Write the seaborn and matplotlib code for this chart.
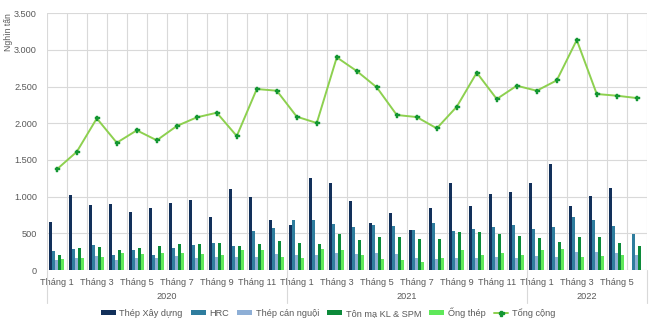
import numpy as np
import pandas as pd
import matplotlib
matplotlib.use("Agg")
import matplotlib.pyplot as plt
import seaborn as sns
from matplotlib.ticker import FuncFormatter, MultipleLocator, FixedLocator
from matplotlib.patches import Patch
from matplotlib.lines import Line2D

# ---- data (nghìn tấn) ----
years = [2020] * 12 + [2021] * 12 + [2022] * 6
months = list(range(1, 13)) * 2 + list(range(1, 7))

thep_xay_dung = [654, 1018, 886, 900, 795, 841, 918, 950, 718, 1104, 1000, 677,
                 614, 1250, 1182, 945, 645, 782, 550, 841, 1186, 877, 1041, 1064,
                 1186, 1450, 873, 1009, 1123, np.nan]
hrc = [264, 286, 341, 205, 273, 209, 295, 341, 368, 323, 527, 577,
       677, 677, 632, 591, 614, 595, 550, 636, 532, 559, 591, 614,
       564, 591, 718, 682, 600, 491]
thep_can_nguoi = [141, 168, 191, 141, 164, 164, 186, 168, 177, 177, 182, 218,
                  209, 205, 236, 218, 227, 218, 168, 155, 164, 168, 177, 168,
                  191, 182, 250, 250, 232, 205]
ton_ma = [205, 305, 309, 273, 300, 323, 350, 350, 364, 323, 359, 391,
          373, 350, 495, 409, 445, 450, 423, 423, 518, 518, 491, 468,
          441, 377, 450, 450, 373, 332]
ong_thep = [155, 164, 173, 232, 223, 227, 236, 218, 209, 268, 273, 177,
            168, 282, 273, 205, 145, 136, 109, 164, 268, 205, 232, 205,
            268, 286, 182, 186, 205, np.nan]
tong_cong = [1372, 1612, 2067, 1735, 1904, 1768, 1963, 2081, 2144, 1826, 2467, 2444,
             2090, 2004, 2899, 2712, 2490, 2113, 2085, 1931, 2226, 2690, 2331, 2512,
             2444, 2585, 3135, 2399, 2376, 2344]

series_names = ["Thép Xây dựng", "HRC", "Thép cán nguội", "Tôn mạ KL & SPM", "Ống thép"]
series_colors = ["#12305a", "#2f7d9e", "#8eafd6", "#0c8a3a", "#5fe85a"]
line_name = "Tổng cộng"
line_color = "#8dd04f"
marker_color = "#139632"

keys = [f"{y}-{m:02d}" for y, m in zip(years, months)]
wide = pd.DataFrame({"key": keys,
                     series_names[0]: thep_xay_dung,
                     series_names[1]: hrc,
                     series_names[2]: thep_can_nguoi,
                     series_names[3]: ton_ma,
                     series_names[4]: ong_thep})
long = wide.melt(id_vars="key", var_name="series", value_name="value").dropna()

# ---- figure ----
sns.set_theme(style="white")
plt.rcParams["font.family"] = ["Liberation Sans", "DejaVu Sans"]
text_color = "#595959"
grid_color = "#d9d9d9"
fs = 6.6

fig = plt.figure(figsize=(6.5, 3.23), dpi=100)
ax = fig.add_axes([0.072, 0.164, 0.923, 0.795])

sns.barplot(data=long, x="key", y="value", hue="series", order=keys,
            hue_order=series_names, palette=dict(zip(series_names, series_colors)),
            width=0.74, gap=0.04, saturation=1, errorbar=None, legend=False,
            linewidth=0, edgecolor="none", ax=ax)

xpos = np.arange(len(keys))
sns.lineplot(x=xpos, y=tong_cong, ax=ax, color=line_color, lw=1.4,
             marker="P", markersize=3.6, markerfacecolor=marker_color,
             markeredgecolor=marker_color, markeredgewidth=0.3, zorder=5)

# axes, ticks, grid
ax.set_xlim(-0.5, len(keys) - 0.5)
ax.set_ylim(0, 3500)
ax.yaxis.set_major_locator(MultipleLocator(500))
ax.yaxis.set_major_formatter(FuncFormatter(lambda v, p: f"{v:,.0f}".replace(",", ".")))
ax.xaxis.set_major_locator(FixedLocator(xpos[::2]))
ax.set_xticklabels([f"Tháng {m}" for m in months[::2]])
ax.xaxis.set_minor_locator(FixedLocator(np.arange(-0.5, len(keys), 1.0)))
ax.tick_params(axis="both", which="both", length=0, labelsize=fs, colors=text_color)
ax.tick_params(axis="x", pad=6)
ax.tick_params(axis="y", pad=7)
ax.grid(False)
ax.grid(axis="y", which="major", color=grid_color, lw=0.8)
ax.grid(axis="x", which="minor", color=grid_color, lw=0.8)
ax.set_axisbelow(True)
for s in ax.spines.values():
    s.set_visible(False)

ax.set_xlabel("")
ax.set_ylabel("Nghìn tấn", fontsize=6.2, color=text_color, loc="top")
ax.yaxis.set_label_coords(-0.056, 1.0)

# year level of the category axis
trans = ax.get_xaxis_transform()
bounds = [-0.5, 11.5, 23.5, len(keys) - 0.5]
for b in bounds:
    ax.plot([b, b], [0, -0.13], transform=trans, color=grid_color, lw=0.8, clip_on=False)
for (a, b), yr in zip(zip(bounds[:-1], bounds[1:]), ["2020", "2021", "2022"]):
    ax.text((a + b) / 2, -0.103, yr, transform=trans, ha="center", va="center",
            fontsize=fs, color=text_color)

# legend
handles = [Patch(facecolor=c, edgecolor="none") for c in series_colors]
handles.append(Line2D([0], [0], color=line_color, lw=1.4, marker="P", markersize=3.6,
                      markerfacecolor=marker_color, markeredgecolor=marker_color))
fig.legend(handles, series_names + [line_name], loc="center", bbox_to_anchor=(0.505, 0.032),
           ncol=6, frameon=False, fontsize=fs, handlelength=1.6, handleheight=0.5,
           handletextpad=0.4, columnspacing=0.9, labelcolor=text_color)

fig.savefig("out.png", dpi=100)
